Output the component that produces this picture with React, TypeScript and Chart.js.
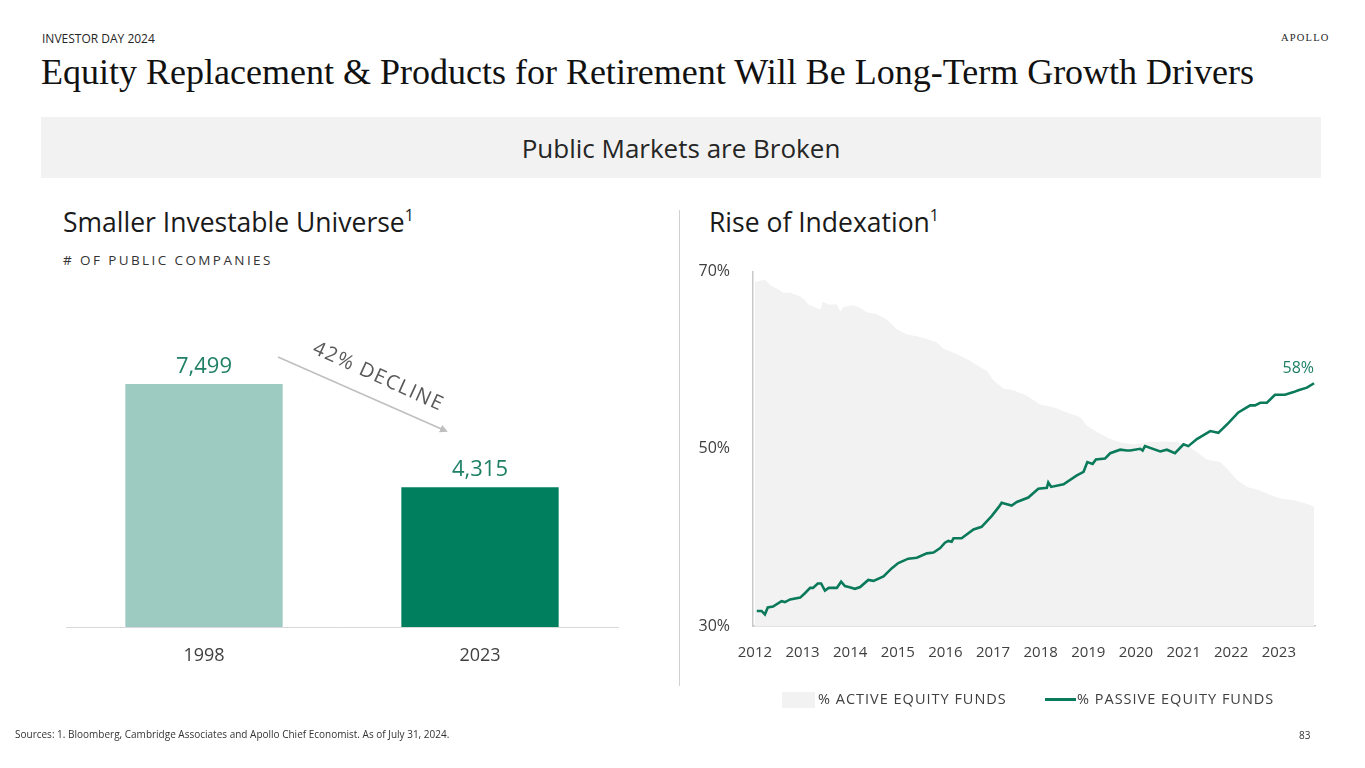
import React, { useEffect, useRef } from "react";
import { Chart, registerables } from "chart.js";

Chart.register(...registerables);

// ---------- Data ----------
const barCategories = ["1998", "2023"];
const barValues = [7499, 4315];
const barColors = ["#9dcbc1", "#007f5f"];
const declineLabel = "42% DECLINE";

const passiveYears = [
  2012.04, 2012.14, 2012.21, 2012.27, 2012.38, 2012.56, 2012.63, 2012.74, 2012.95, 2013.05,
  2013.16, 2013.22, 2013.32, 2013.39, 2013.47, 2013.55, 2013.72, 2013.81, 2013.89, 2013.97,
  2014.10, 2014.21, 2014.38, 2014.49, 2014.70, 2014.87, 2015.01, 2015.22, 2015.40, 2015.61,
  2015.75, 2015.89, 2015.99, 2016.06, 2016.13, 2016.17, 2016.34, 2016.59, 2016.76, 2016.97,
  2017.13, 2017.18, 2017.39, 2017.50, 2017.74, 2017.95, 2018.13, 2018.16, 2018.22, 2018.48,
  2018.76, 2018.90, 2018.98, 2019.09, 2019.16, 2019.35, 2019.46, 2019.67, 2019.81, 2019.88,
  2020.09, 2020.14, 2020.19, 2020.51, 2020.65, 2020.82, 2021.00, 2021.10, 2021.28, 2021.56,
  2021.73, 2021.94, 2022.15, 2022.40, 2022.50, 2022.61, 2022.75, 2022.92, 2023.13, 2023.31,
  2023.41, 2023.59, 2023.74,
];
const passiveValues = [
  31.7, 31.7, 31.3, 32.1, 32.2, 32.8, 32.7, 33.0, 33.2, 33.7,
  34.3, 34.3, 34.8, 34.8, 34.0, 34.3, 34.3, 35.0, 34.5, 34.4,
  34.2, 34.4, 35.2, 35.1, 35.6, 36.5, 37.1, 37.6, 37.7, 38.2,
  38.3, 38.8, 39.4, 39.6, 39.5, 39.9, 39.9, 40.9, 41.2, 42.4,
  43.5, 43.9, 43.6, 44.0, 44.5, 45.5, 45.6, 46.2, 45.7, 46.0,
  47.0, 47.4, 48.5, 48.3, 48.8, 48.9, 49.5, 49.9, 49.8, 49.8,
  50.0, 49.8, 50.3, 49.7, 49.9, 49.5, 50.5, 50.3, 51.1, 52.0,
  51.8, 52.9, 54.1, 54.9, 54.9, 55.2, 55.2, 56.1, 56.1, 56.4,
  56.6, 56.9, 57.4,
];

const activeYears = [
  2012.00, 2012.21, 2012.32, 2012.49, 2012.59, 2012.74, 2012.95, 2013.05, 2013.12, 2013.30,
  2013.37, 2013.43, 2013.54, 2013.72, 2013.79, 2013.86, 2014.07, 2014.21, 2014.35, 2014.56,
  2014.77, 2014.98, 2015.19, 2015.40, 2015.61, 2015.82, 2015.96, 2016.10, 2016.31, 2016.52,
  2016.73, 2016.87, 2017.01, 2017.22, 2017.43, 2017.71, 2017.99, 2018.27, 2018.55, 2018.83,
  2018.97, 2019.18, 2019.46, 2019.67, 2019.95, 2020.30, 2020.51, 2020.82, 2021.07, 2021.28,
  2021.49, 2021.77, 2021.94, 2022.12, 2022.33, 2022.54, 2022.82, 2023.03, 2023.31, 2023.52,
  2023.74,
];
const activeValues = [
  68.8, 69.1, 68.5, 68.0, 67.6, 67.6, 67.2, 66.8, 66.3, 65.9,
  65.7, 66.6, 66.3, 66.3, 65.5, 66.0, 66.2, 65.9, 65.4, 65.2,
  64.6, 63.5, 62.9, 62.7, 62.4, 62.0, 61.3, 61.0, 60.5, 59.9,
  59.2, 58.8, 57.7, 56.8, 56.6, 56.0, 55.0, 54.7, 54.1, 53.6,
  52.6, 51.9, 51.1, 50.7, 50.5, 50.8, 50.8, 50.8, 50.4, 49.6,
  48.8, 48.5, 47.6, 46.5, 45.7, 45.4, 44.8, 44.4, 44.2, 43.9,
  43.5,
];

const lineEndLabel = "58%";
const yTickValues = [30, 50, 70];
const seriesNames = ["% ACTIVE EQUITY FUNDS", "% PASSIVE EQUITY FUNDS"];

// ---------- Styles ----------
const SANS = "'Open Sans', 'Noto Sans', sans-serif";
const SERIF = "'Liberation Serif', 'DejaVu Serif', serif";
const GREEN = "#0b7a5a";
const LABEL_GREEN = "#1f8066";
const TEXT = "#404040";

const barValuePlugin = {
  id: "barValues",
  afterDatasetsDraw(chart: any) {
    const ctx = chart.ctx;
    const meta = chart.getDatasetMeta(0);
    ctx.save();
    ctx.font = `22px ${SANS}`;
    ctx.fillStyle = LABEL_GREEN;
    ctx.textAlign = "center";
    ctx.textBaseline = "bottom";
    meta.data.forEach((el: any, i: number) => {
      const v = chart.data.datasets[0].data[i] as number;
      ctx.fillText(v.toLocaleString("en-US"), el.x, el.y - 6);
    });
    ctx.restore();
  },
};

const endLabelPlugin = {
  id: "endLabel",
  afterDatasetsDraw(chart: any) {
    const ctx = chart.ctx;
    const meta = chart.getDatasetMeta(0);
    const last = meta.data[meta.data.length - 1];
    if (!last) return;
    ctx.save();
    ctx.font = `16px ${SANS}`;
    ctx.fillStyle = LABEL_GREEN;
    ctx.textAlign = "right";
    ctx.textBaseline = "bottom";
    ctx.fillText(lineEndLabel, last.x, last.y - 7);
    ctx.restore();
  },
};

function BarChart() {
  const ref = useRef<HTMLCanvasElement>(null);
  useEffect(() => {
    if (!ref.current) return;
    const chart = new Chart(ref.current, {
      type: "bar",
      data: {
        labels: barCategories,
        datasets: [
          {
            data: barValues,
            backgroundColor: barColors,
            barPercentage: 0.57,
            categoryPercentage: 1,
            borderWidth: 0,
          },
        ],
      },
      options: {
        animation: false,
        responsive: false,
        maintainAspectRatio: false,
        layout: { padding: { left: 6, right: 12, top: 13, bottom: 0 } },
        plugins: { legend: { display: false }, tooltip: { enabled: false } },
        scales: {
          x: {
            grid: { display: false },
            border: { display: true, color: "#d9d9d9", width: 1 },
            ticks: { font: { family: SANS, size: 18 }, color: TEXT, padding: 10 },
            afterFit: (s: any) => {
              s.height = 63;
            },
          },
          y: { display: false, min: 0, max: 10000 },
        },
      },
      plugins: [barValuePlugin],
    });
    return () => chart.destroy();
  }, []);
  return (
    <canvas
      ref={ref}
      width={570}
      height={400}
      style={{ position: "absolute", left: 60, top: 290, width: 570, height: 400 }}
    />
  );
}

function LineChart() {
  const ref = useRef<HTMLCanvasElement>(null);
  useEffect(() => {
    if (!ref.current) return;
    const passive = passiveYears.map((x, i) => ({ x, y: passiveValues[i] }));
    const active = activeYears.map((x, i) => ({ x, y: activeValues[i] }));
    const chart = new Chart(ref.current, {
      type: "line",
      data: {
        datasets: [
          {
            label: seriesNames[1],
            data: passive,
            borderColor: GREEN,
            borderWidth: 2.6,
            pointRadius: 0,
            tension: 0,
            fill: false,
          },
          {
            label: seriesNames[0],
            data: active,
            borderWidth: 0,
            borderColor: "rgba(0,0,0,0)",
            backgroundColor: "#f2f2f2",
            pointRadius: 0,
            tension: 0,
            fill: "start",
          },
        ],
      },
      options: {
        animation: false,
        responsive: false,
        maintainAspectRatio: false,
        layout: { padding: { left: 0, right: 35, top: 0, bottom: 0 } },
        plugins: { legend: { display: false }, tooltip: { enabled: false } },
        scales: {
          x: {
            type: "linear",
            min: 2011.96,
            max: 2023.76,
            grid: { display: false },
            border: { display: true, color: "#c8c8c8", width: 1.5 },
            ticks: {
              stepSize: 1,
              includeBounds: false,
              autoSkip: false,
              maxRotation: 0,
              font: { family: SANS, size: 15 },
              color: TEXT,
              padding: 10,
              callback: (v: any) => String(v),
            },
            afterFit: (s: any) => {
              s.height = 49;
            },
          },
          y: {
            min: 30,
            max: 70,
            grid: { display: false },
            border: { display: true, color: "#c8c8c8", width: 1.5 },
            afterBuildTicks: (s: any) => {
              s.ticks = yTickValues.map((v) => ({ value: v }));
            },
            ticks: {
              font: { family: SANS, size: 16 },
              color: TEXT,
              padding: 15,
              callback: (v: any) => `${v}%`,
            },
            afterFit: (s: any) => {
              s.width = 63;
            },
          },
        },
      },
      plugins: [endLabelPlugin],
    });
    return () => chart.destroy();
  }, []);
  return (
    <canvas
      ref={ref}
      width={660}
      height={428}
      style={{ position: "absolute", left: 690, top: 247, width: 660, height: 428 }}
    />
  );
}

const abs = (left: number, top: number, extra: React.CSSProperties = {}): React.CSSProperties => ({
  position: "absolute",
  left,
  top,
  lineHeight: 1,
  whiteSpace: "nowrap",
  ...extra,
});

export default function App() {
  return (
    <div
      style={{
        position: "fixed",
        left: 0,
        top: 0,
        width: 1365,
        height: 768,
        background: "#fff",
        overflow: "hidden",
        fontFamily: SANS,
        color: TEXT,
      }}
    >
      <div style={abs(42, 33, { fontSize: 12, color: "#262626" })}>INVESTOR DAY 2024</div>
      <div style={abs(1281, 33, { fontSize: 10.5, fontFamily: SERIF, color: "#262626", letterSpacing: 1.2 })}>APOLLO</div>
      <div style={abs(41, 54, { fontSize: 36, fontFamily: SERIF, color: "#111" })}>
        Equity Replacement &amp; Products for Retirement Will Be Long-Term Growth Drivers
      </div>

      <div
        style={{
          position: "absolute",
          left: 41,
          top: 117,
          width: 1280,
          height: 61,
          background: "#f2f2f2",
          display: "flex",
          alignItems: "center",
          justifyContent: "center",
          fontSize: 26,
          color: "#262626",
        }}
      >
        Public Markets are Broken
      </div>

      <div style={abs(63, 209, { fontSize: 26.5, color: "#1a1a1a" })}>
        Smaller Investable Universe<sup style={{ fontSize: 16, verticalAlign: "top", position: "relative", top: -2 }}>1</sup>
      </div>
      <div style={abs(63, 254, { fontSize: 13.5, letterSpacing: 2.4, color: "#333" })}># OF PUBLIC COMPANIES</div>

      <div style={abs(709, 209, { fontSize: 26.5, color: "#1a1a1a" })}>
        Rise of Indexation<sup style={{ fontSize: 16, verticalAlign: "top", position: "relative", top: -2 }}>1</sup>
      </div>

      <div style={{ position: "absolute", left: 679, top: 210, width: 1, height: 476, background: "#d0d0d0" }} />

      <BarChart />

      <svg
        width={1365}
        height={768}
        style={{ position: "absolute", left: 0, top: 0, pointerEvents: "none" }}
      >
        <defs>
          <marker id="arrowHead" markerWidth="8" markerHeight="8" refX="6" refY="4" orient="auto" markerUnits="userSpaceOnUse">
            <path d="M0,0 L8,4 L0,8 z" fill="#bfbfbf" />
          </marker>
        </defs>
        <line x1={278} y1={357} x2={446} y2={431} stroke="#bfbfbf" strokeWidth={1.5} markerEnd="url(#arrowHead)" />
        <text
          x={376}
          y={382}
          fill="#595959"
          fontFamily={SANS}
          fontSize={20}
          letterSpacing={1.5}
          textAnchor="middle"
          transform="rotate(24.5 376 382)"
        >
          {declineLabel}
        </text>
      </svg>

      <LineChart />

      <div style={{ position: "absolute", left: 782, top: 692, width: 33, height: 16, background: "#f2f2f2" }} />
      <div style={abs(818, 692, { fontSize: 14.5, letterSpacing: 1, color: TEXT })}>{seriesNames[0]}</div>
      <div style={{ position: "absolute", left: 1045, top: 698, width: 31, height: 3, background: GREEN }} />
      <div style={abs(1077, 692, { fontSize: 14.5, letterSpacing: 1, color: TEXT })}>{seriesNames[1]}</div>

      <div style={abs(15, 729, { fontSize: 10, color: "#333" })}>
        Sources: 1. Bloomberg, Cambridge Associates and Apollo Chief Economist. As of July 31, 2024.
      </div>
      <div style={abs(1299, 730, { fontSize: 10, color: "#333" })}>83</div>
    </div>
  );
}
